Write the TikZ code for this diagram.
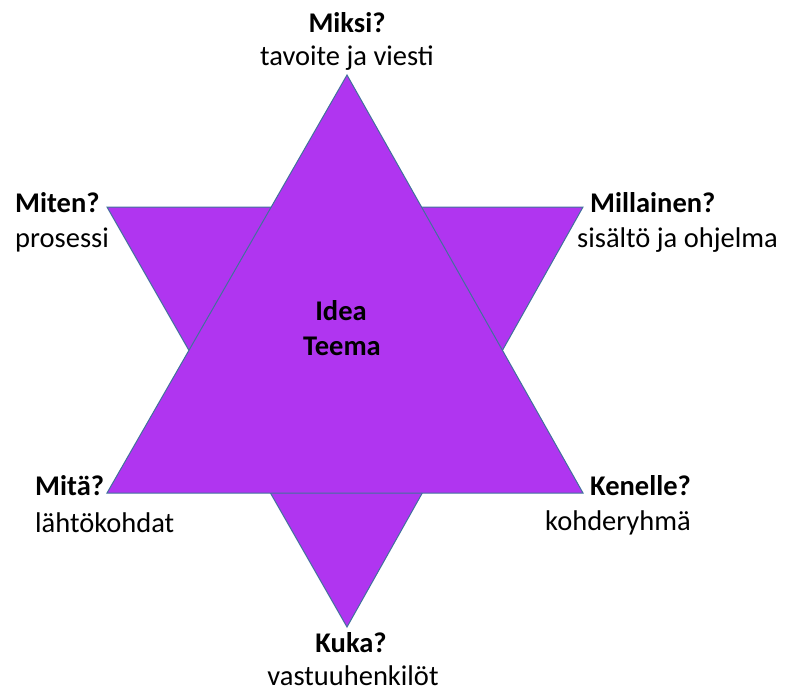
\documentclass[tikz,border=0pt]{standalone}
\usepackage{fontspec}
\setmainfont{Carlito}
\usetikzlibrary{positioning}

\definecolor{starfill}{HTML}{B035F0}
\definecolor{staredge}{HTML}{41719C}

\begin{document}
\begin{tikzpicture}[
    x=1pt, y=-1pt,
    font=\fontsize{28.5}{34}\selectfont,
    tri/.style={fill=starfill, draw=staredge, line width=1pt, line join=miter},
    qlab/.style={font=\fontsize{28.5}{34}\selectfont\bfseries, inner sep=0pt},
    dlab/.style={inner sep=0pt},
]
\useasboundingbox (0,0) rectangle (789,697);

% corner points of the two triangles
\coordinate (top)   at (347,75);
\coordinate (bl)    at (107,493);
\coordinate (br)    at (583,493);
\coordinate (tl)    at (107,207);
\coordinate (tr)    at (583,207);
\coordinate (bot)   at (347,627);

\draw[tri] (tl) -- (tr) -- (bot) -- cycle;
\draw[tri] (top) -- (br) -- (bl) -- cycle;

% centre
\node[qlab, anchor=base] (idea)  at (341,320) {Idea};
\node[qlab, anchor=base] (teema) at (342,355) {Teema};

% points of the star
\node[qlab, anchor=base] (miksi) at (347,32) {Miksi?};
\node[dlab, anchor=base] (miksid) at (347,65) {tavoite ja viesti};

\node[qlab, anchor=base west] (miten) at (15,212) {Miten?};
\node[dlab, anchor=base west] (mitend) at (15,247) {prosessi};

\node[qlab, anchor=base west] (millainen) at (590,212) {Millainen?};
\node[dlab, anchor=base west] (millainend) at (577,247) {sisältö ja ohjelma};

\node[qlab, anchor=base west] (mita) at (35,495) {Mitä?};
\node[dlab, anchor=base west] (mitad) at (35,532) {lähtökohdat};

\node[qlab, anchor=base west] (kenelle) at (590,495) {Kenelle?};
\node[dlab, anchor=base] (kenelled) at (618,530) {kohderyhmä};

\node[qlab, anchor=base] (kuka) at (351,652) {Kuka?};
\node[dlab, anchor=base] (kukad) at (353,685) {vastuuhenkilöt};

\end{tikzpicture}
\end{document}
